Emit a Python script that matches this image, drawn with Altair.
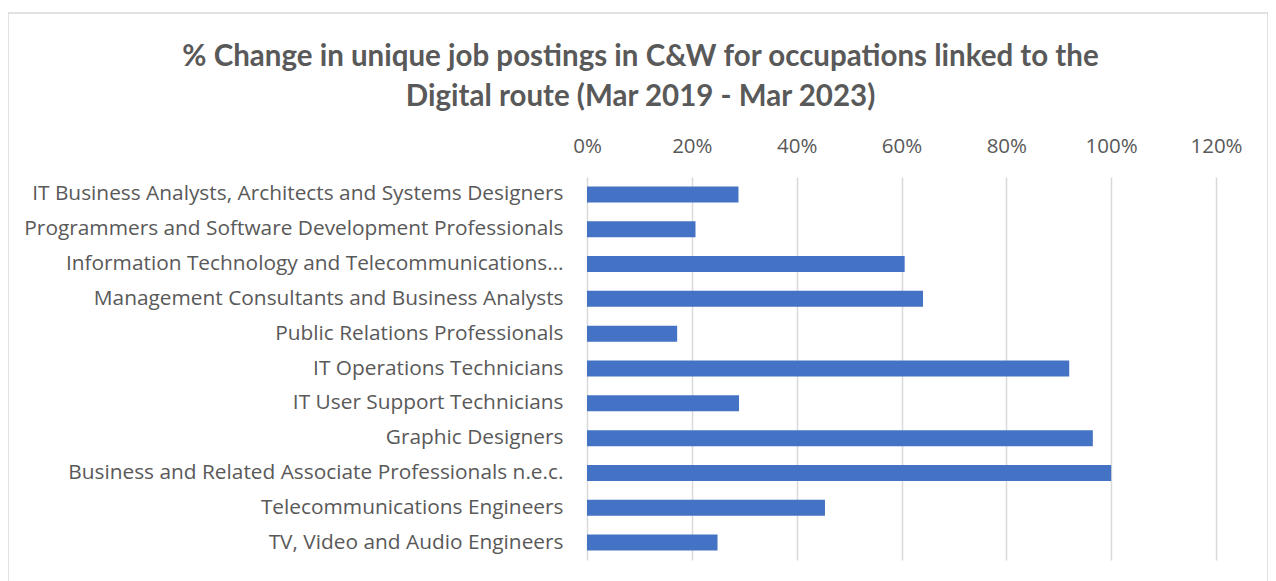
import altair as alt
import pandas as pd

occupations = [
    "IT Business Analysts, Architects and Systems Designers",
    "Programmers and Software Development Professionals",
    "Information Technology and Telecommunications…",
    "Management Consultants and Business Analysts",
    "Public Relations Professionals",
    "IT Operations Technicians",
    "IT User Support Technicians",
    "Graphic Designers",
    "Business and Related Associate Professionals n.e.c.",
    "Telecommunications Engineers",
    "TV, Video and Audio Engineers",
]
pct_change = [0.289, 0.207, 0.606, 0.641, 0.172, 0.920, 0.290, 0.965, 1.000, 0.454, 0.249]
tick_values = [0, 0.2, 0.4, 0.6, 0.8, 1.0, 1.2]

df = pd.DataFrame({"occupation": occupations, "change": pct_change})

GREY = "#595959"

bars = alt.Chart(df).mark_bar(color="#4472C4").encode(
    y=alt.Y("occupation:N", sort=occupations, title=None,
            scale=alt.Scale(paddingInner=0.54, paddingOuter=0.27),
            axis=alt.Axis(domain=False, ticks=False, labelFont="Open Sans", labelFontSize=20.85,
                          labelColor=GREY, labelPadding=24, labelLimit=600)),
    x=alt.X("change:Q", title=None,
            scale=alt.Scale(domain=[0, 1.2], nice=False),
            axis=alt.Axis(orient="top", values=tick_values, format=".0%", domain=False,
                          ticks=False, labelFont="Open Sans", labelFontSize=20.5, labelColor=GREY,
                          labelPadding=21, labelFlush=False, gridColor="#d9d9d9", gridWidth=1.5)),
)

frame = alt.Chart(pd.DataFrame({"f": [0]})).mark_rect(
    fill=None, stroke="#d9d9d9", strokeWidth=1.5
).encode(
    x=alt.value(-579), x2=alt.value(681), y=alt.value(-164), y2=alt.value(420)
)

chart = alt.layer(frame, bars).properties(
    width=629,
    height=383,
    autosize=alt.AutoSizeParams(type="none"),
    padding={"left": 579, "top": 169, "right": 52, "bottom": 21},
    title=alt.TitleParams(
        ["% Change in unique job postings in C&W for occupations linked to the",
         "Digital route (Mar 2019 - Mar 2023)"],
        font="Lato", fontSize=29.5, fontWeight="bold", color=GREY, anchor="middle",
        dx=-261, dy=114, lineHeight=40, offset=14,
    ),
).configure(background="white").configure_view(stroke=None)

chart.save("out.html", embed_options={"renderer": "svg", "actions": False})
